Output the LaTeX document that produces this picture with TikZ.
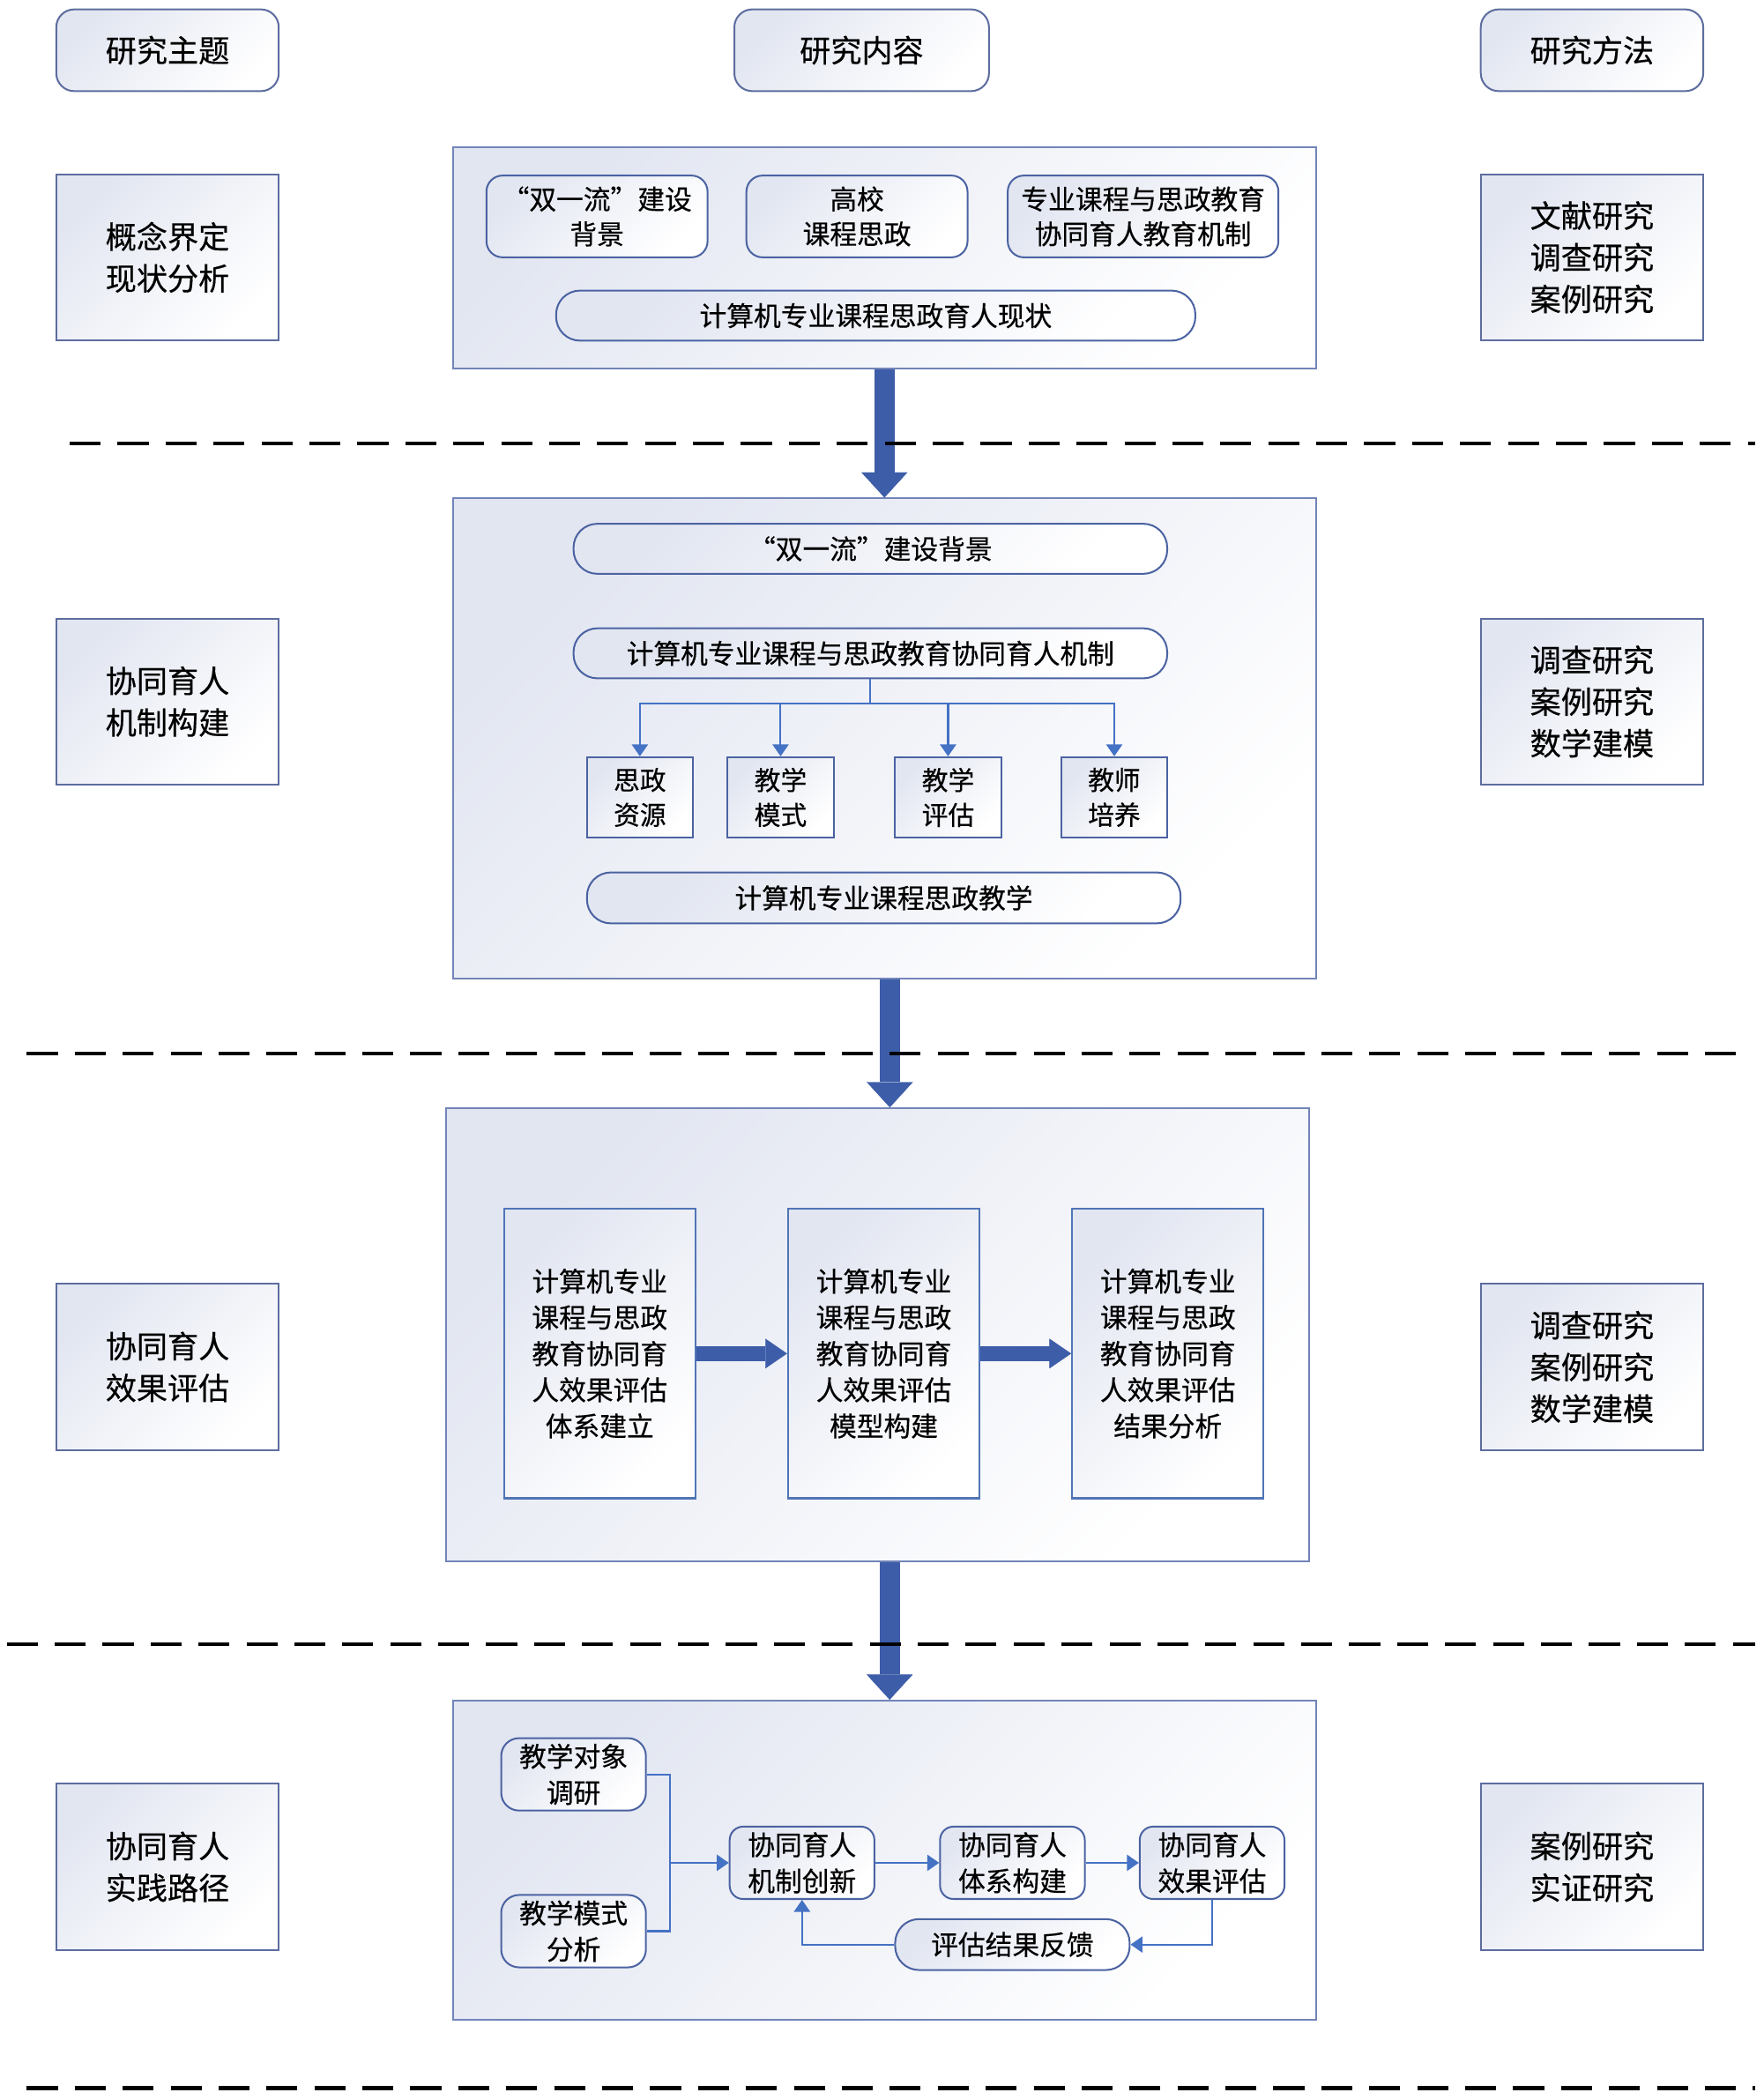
\documentclass[tikz,border=0pt]{standalone}
\usepackage{fontspec}
\setmainfont{Noto Sans CJK SC}[FakeBold=0.4]
\newfontfamily\quotefont[CharacterWidth=Full,FakeBold=0.4]{Noto Sans CJK SC}
\usepackage{tikz}
\usetikzlibrary{arrows.meta}
\definecolor{boxline}{HTML}{5D6D9F}
\definecolor{panelline}{HTML}{7284B8}
\definecolor{innerline}{HTML}{4B63A2}
\definecolor{linkblue}{HTML}{4472C4}
\definecolor{bigblue}{HTML}{3D5DA9}
\definecolor{gradc}{HTML}{E2E6F1}
\begin{document}
\begin{tikzpicture}[x=0.45pt,y=-0.45pt,
  shaded/.style={top color=gradc,bottom color=white,shading angle=45},
  headbox/.style={shaded,draw=boxline,line width=0.6pt,rounded corners=6pt,minimum width=74.7pt,minimum height=27.45pt,inner sep=0pt,font=\fontsize{10.4}{14}\selectfont},
  sidebox/.style={shaded,draw=boxline,line width=0.6pt,minimum width=74.7pt,minimum height=55.8pt,inner sep=0pt,align=center,font=\fontsize{10.4}{14}\selectfont},
  panel/.style={shaded,draw=panelline,line width=0.6pt,minimum width=289.8pt,inner sep=0pt},
  itembox/.style={shaded,draw=innerline,line width=0.6pt,rounded corners=5.4pt,minimum width=74.25pt,minimum height=27.45pt,inner sep=0pt,align=center,font=\fontsize{9.1}{11.7}\selectfont},
  pill/.style={shaded,draw=innerline,line width=0.6pt,rounded corners=8pt,minimum width=199.35pt,minimum height=16.8pt,inner sep=0pt,font=\fontsize{9.1}{11.7}\selectfont},
  subbox/.style={shaded,draw=innerline,line width=0.6pt,minimum width=35.55pt,minimum height=27pt,inner sep=0pt,align=center,font=\fontsize{8.8}{11.7}\selectfont},
  tallbox/.style={shaded,draw=linkblue!80!gray,line width=0.6pt,minimum width=64.35pt,minimum height=97.2pt,inner sep=0pt,align=center,font=\fontsize{9.1}{12.15}\selectfont},
  stepbox/.style={shaded,draw=innerline,line width=0.6pt,rounded corners=4.5pt,minimum width=48.6pt,minimum height=24.3pt,inner sep=0pt,align=center,font=\fontsize{9.1}{12.15}\selectfont},
  link/.style={draw=linkblue,line width=0.6pt},
  linkarrow/.style={link,-{Triangle[length=4pt,width=5.4pt]}},
  bigarrow/.style={draw=bigblue,line width=6.8pt,-{Triangle[length=8.5pt,width=15.5pt,line width=0.1pt]}},
  sidearrow/.style={draw=bigblue,line width=5pt,-{Triangle[length=7.3pt,width=10pt,line width=0.1pt]}},
  divider/.style={line width=1.3pt,dash pattern=on 10.4pt off 5.7pt}]
\useasboundingbox (0,0) rectangle (1315.8,1567);
\node[headbox] (h1) at (125,37.5) {研究主题};
\node[headbox,minimum width=85.5pt] (h2) at (643,37.5) {研究内容};
\node[headbox] (h3) at (1188,37.5) {研究方法};
\node[sidebox] (l1) at (125,192) {概念界定\\现状分析};
\node[sidebox] (l2) at (125,523.5) {协同育人\\机制构建};
\node[sidebox] (l3) at (125,1020) {协同育人\\效果评估};
\node[sidebox] (l4) at (125,1393) {协同育人\\实践路径};
\node[sidebox] (r1) at (1188,192) {文献研究\\调查研究\\案例研究};
\node[sidebox] (r2) at (1188,523.5) {调查研究\\案例研究\\数学建模};
\node[sidebox] (r3) at (1188,1020) {调查研究\\案例研究\\数学建模};
\node[sidebox] (r4) at (1188,1393) {案例研究\\实证研究};
% panels
\node[panel,minimum height=74.25pt] (pan1) at (660,192.5) {};
\node[panel,minimum height=161.1pt] (pan2) at (660,551) {};
\node[panel,minimum height=152.1pt] (pan3) at (655,996) {};
\node[panel,minimum height=107.1pt] (pan4) at (660,1388) {};
% panel 1
\node[itembox] (a1) at (445.5,161.5) {{\quotefont “}双一流{\quotefont ”}建设\\背景};
\node[itembox] (a2) at (639.5,161.5) {高校\\课程思政};
\node[itembox,minimum width=90.9pt] (a3) at (853,161.5) {专业课程与思政教育\\协同育人教育机制};
\node[pill,minimum width=214.65pt] (a4) at (653.5,235.5) {计算机专业课程思政育人现状};
% panel 2
\node[pill] (b1) at (649.5,409.5) {{\quotefont “}双一流{\quotefont ”}建设背景};
\node[pill] (b2) at (649.5,487.5) {计算机专业课程与思政教育协同育人机制};
\node[subbox] (c1) at (477.5,595) {思政\\资源};
\node[subbox] (c2) at (582.5,595) {教学\\模式};
\node[subbox] (c3) at (707.5,595) {教学\\评估};
\node[subbox] (c4) at (831.5,595) {教师\\培养};
\node[pill,minimum height=17.1pt] (b3) at (659.5,670) {计算机专业课程思政教学};
\coordinate (br) at (649.5,525);
\draw[link] (b2.south) -- (br);
\foreach \n in {c1,c2,c3,c4}
  \draw[linkarrow] (br) -| (\n.north);
% panel 3
\node[tallbox] (d1) at (447.5,1010) {计算机专业\\课程与思政\\教育协同育\\人效果评估\\体系建立};
\node[tallbox] (d2) at (659.5,1010) {计算机专业\\课程与思政\\教育协同育\\人效果评估\\模型构建};
\node[tallbox] (d3) at (871.5,1010) {计算机专业\\课程与思政\\教育协同育\\人效果评估\\结果分析};
\draw[sidearrow] (d1.east) -- (d2.west);
\draw[sidearrow] (d2.east) -- (d3.west);
% panel 4
\node[stepbox,rounded corners=6pt] (e1) at (428,1324) {教学对象\\调研};
\node[stepbox,rounded corners=6pt] (e2) at (428,1441) {教学模式\\分析};
\node[stepbox] (f1) at (598.5,1390) {协同育人\\机制创新};
\node[stepbox] (f2) at (755.5,1390) {协同育人\\体系构建};
\node[stepbox] (f3) at (904.5,1390) {协同育人\\效果评估};
\node[pill,minimum width=78.75pt,minimum height=17.1pt] (g) at (755.5,1451) {评估结果反馈};
\coordinate (jn) at (500,1390);
\draw[link] (e1.east) -| (jn);
\draw[link] (e2.east) -| (jn);
\draw[linkarrow] (jn) -- (f1.west);
\draw[linkarrow] (f1.east) -- (f2.west);
\draw[linkarrow] (f2.east) -- (f3.west);
\draw[linkarrow] (f3.south) |- (g.east);
\draw[linkarrow] (g.west) -| (f1.south);
% between panels
\draw[bigarrow] (pan1.south) -- (pan2.north);
\draw[bigarrow] ([xshift=1.8pt]pan2.south) -- ([xshift=1.8pt]pan2.south |- pan3.north);
\draw[bigarrow] ([xshift=4pt]pan3.south) -- ([xshift=4pt]pan3.south |- pan4.north);
\draw[divider] (52,331) -- (1310,331);
\draw[divider] (20,786) -- (1305,786);
\draw[divider] (5,1227) -- (1310,1227);
\draw[divider] (20,1558) -- (1310,1558);
\end{tikzpicture}
\end{document}
